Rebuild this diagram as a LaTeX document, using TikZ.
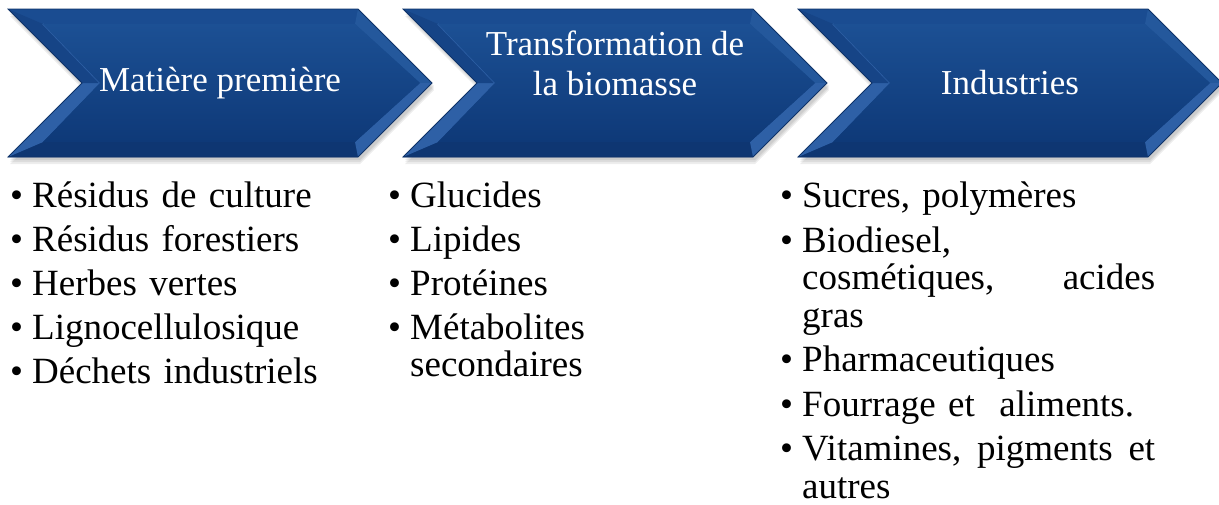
\documentclass[tikz,border=0pt]{standalone}
\usepackage{fontspec}
\setmainfont{Liberation Serif}

\definecolor{chevtop}{RGB}{28,80,148}
\definecolor{chevbot}{RGB}{14,57,120}
\definecolor{chevline}{RGB}{14,50,104}
\definecolor{bevhaut}{RGB}{26,76,145}
\definecolor{bevbas}{RGB}{14,54,114}
\definecolor{bevsombre}{RGB}{22,68,134}
\definecolor{bevclair}{RGB}{46,96,166}
\definecolor{bevmoyen}{RGB}{36,88,156}

\newcommand{\puce}[1]{\par\hangindent=22pt\hangafter=1\noindent\hbox to 22pt{•\hss}#1\par}

\tikzset{
  entete/.style={text=white,font=\fontsize{35}{40}\selectfont,align=center,inner sep=0pt},
  liste/.style={anchor=north west,inner sep=0pt,text width=#1,
    font=\fontsize{37}{37.5}\selectfont\setlength{\parskip}{6.5pt}}
}

\begin{document}
\begin{tikzpicture}[x=1pt,y=-1pt]
  \useasboundingbox (0,0) rectangle (1219,504);

  % les trois chevrons
  \foreach \x/\nom/\y/\titre in {8/mat/83/{Matière première},
                                 403/tra/63/{Transformation de\\la biomasse},
                                 798/ind/83/{Industries}} {
    \foreach \s in {7,5,3}
      \fill[black,opacity=.07] (\x+2,9+\s) -- (\x+352,9+\s) -- (\x+426,83+\s) -- (\x+352,157+\s)
        -- (\x+2,157+\s) -- (\x+76,83+\s) -- cycle;
    \shade[top color=chevtop,bottom color=chevbot] (\x,9) -- (\x+350,9) -- (\x+424,83)
      -- (\x+350,157) -- (\x,157) -- (\x+74,83) -- cycle;
    % biseaux
    \fill[bevhaut] (\x,9) -- (\x+350,9) -- (\x+347,24) -- (\x+35,24) -- cycle;
    \fill[bevbas] (\x+350,157) -- (\x,157) -- (\x+35,142) -- (\x+347,142) -- cycle;
    \fill[bevmoyen] (\x+350,9) -- (\x+424,83) -- (\x+412,83) -- (\x+347,24) -- cycle;
    \fill[bevclair] (\x+424,83) -- (\x+350,157) -- (\x+347,142) -- (\x+412,83) -- cycle;
    \fill[bevclair] (\x,157) -- (\x+74,83) -- (\x+92,83) -- (\x+35,142) -- cycle;
    \fill[bevsombre] (\x+74,83) -- (\x,9) -- (\x+35,24) -- (\x+92,83) -- cycle;
    \draw[bevclair,line width=1.5pt] (\x+35,24) -- (\x+92,83);
    \shade[top color=chevtop,bottom color=chevbot] (\x+35,24) -- (\x+347,24) -- (\x+412,83)
      -- (\x+347,142) -- (\x+35,142) -- (\x+92,83) -- cycle;
    \draw[chevline,line width=.8pt] (\x,9) -- (\x+350,9) -- (\x+424,83)
      -- (\x+350,157) -- (\x,157) -- (\x+74,83) -- cycle;
    \node[entete] (\nom) at (\x+212,\y) {\titre};
  }

  % listes
  \node[liste=340pt] (l1) at (10,163) {%
    \puce{Résidus de culture}
    \puce{Résidus forestiers}
    \puce{Herbes vertes}
    \puce{Lignocellulosique}
    \puce{Déchets industriels}};
  \node[liste=280pt] (l2) at (388,163) {%
    \puce{Glucides}
    \puce{Lipides}
    \puce{Protéines}
    \puce{Métabolites\newline secondaires}};
  \node[liste=375pt] (l3) at (780,163) {\setlength{\parskip}{7pt}%
    \puce{Sucres, polymères}
    \puce{Biodiesel,\newline cosmétiques,\hfill acides\newline gras}
    \puce{Pharmaceutiques}
    \puce{Fourrage et~ aliments.}
    \puce{Vitamines,\hfill pigments\hfill et\newline autres}};
\end{tikzpicture}
\end{document}
